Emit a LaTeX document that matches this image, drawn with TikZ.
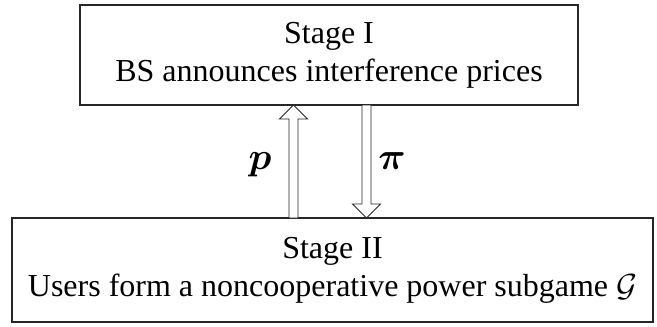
\RequirePackage{fix-cm}
\documentclass[tikz,border=0pt]{standalone}
\usepackage{fontspec}
\setmainfont{Liberation Serif}
\usepackage{bm}
\usetikzlibrary{calc}
\begin{document}
\begin{tikzpicture}[x=1pt,y=-1pt,
  stagebox/.style={draw=black!85,line width=1.1pt,outer sep=0pt,inner sep=0pt,
    align=center,font=\fontsize{32}{38}\selectfont},
  hollow/.style={draw=black!85,line width=0.9pt,fill=white,line join=miter},
  lbl/.style={font=\fontsize{38}{40}\selectfont,inner sep=0pt}]
\useasboundingbox (0,0) rectangle (657,327);
\node[stagebox,minimum width=498pt,minimum height=100pt] (s1) at (329,55)
  {Stage I\\BS announces interference prices};
\node[stagebox,minimum width=641pt,minimum height=104pt] (s2) at (332.5,270)
  {Stage II\\Users form a noncooperative power subgame $\mathcal{G}$};
\coordinate (ux) at (293.5,0);
\coordinate (dx) at (366.5,0);
\coordinate (utip) at (s1.south -| ux);
\coordinate (ubase) at (s2.north -| ux);
\coordinate (dtip) at (s2.north -| dx);
\coordinate (dbase) at (s1.south -| dx);
\draw[hollow] ($(ubase)+(-4.5,0)$) -- ($(utip)+(-4.5,14)$) -- ($(utip)+(-14,14)$) -- (utip)
  -- ($(utip)+(14,14)$) -- ($(utip)+(4.5,14)$) -- ($(ubase)+(4.5,0)$) -- cycle;
\draw[hollow] ($(dbase)+(-4.5,0)$) -- ($(dtip)+(-4.5,-14)$) -- ($(dtip)+(-14,-14)$) -- (dtip)
  -- ($(dtip)+(14,-14)$) -- ($(dtip)+(4.5,-14)$) -- ($(dbase)+(4.5,0)$) -- cycle;
\node[lbl] (p) at (260,165) {$\bm{p}$};
\node[lbl] (pi) at (392,161) {$\bm{\pi}$};
\end{tikzpicture}
\end{document}
